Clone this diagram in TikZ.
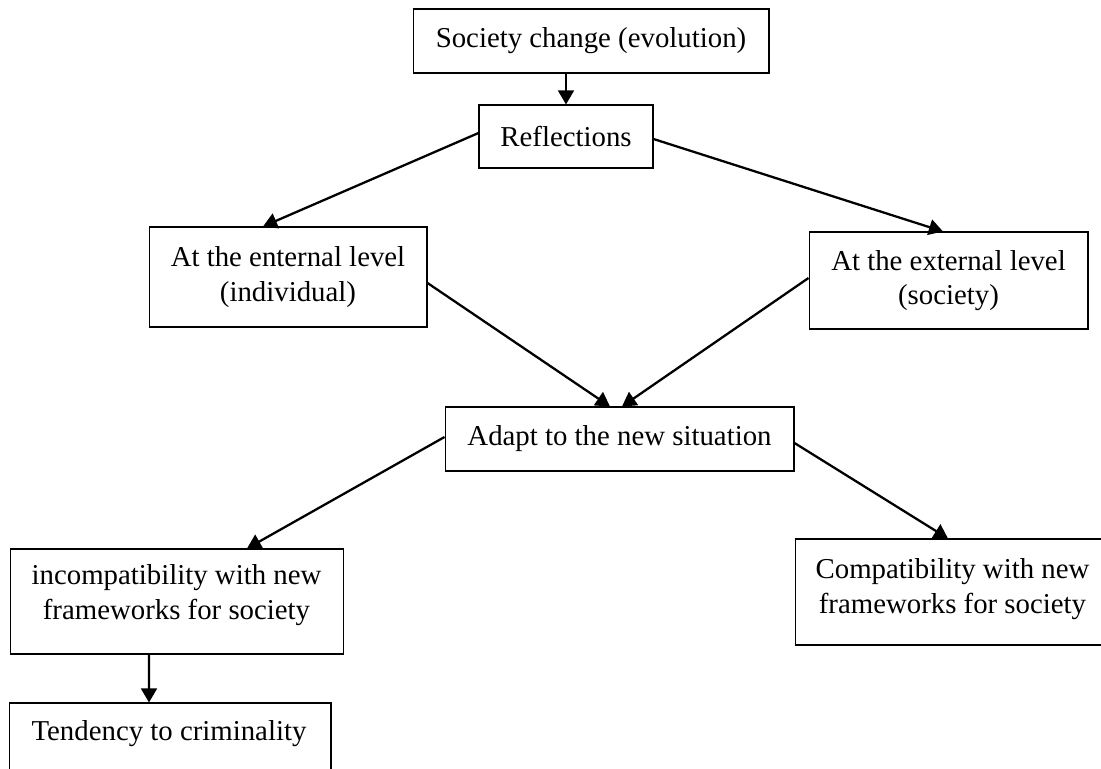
\documentclass[tikz,border=0pt]{standalone}
\usepackage{fontspec}
\setmainfont{Liberation Serif}
\usetikzlibrary{arrows.meta}
\begin{document}
\begin{tikzpicture}[x=0.02cm,y=-0.02cm,
  box/.style={draw=black, line width=0.6pt, rectangle, inner sep=0pt, align=center,
    font=\fontsize{16.4}{19.5}\selectfont},
  arr/.style={line width=1.3pt, -{Triangle[length=8pt,width=9pt]}}]
\path[use as bounding box, clip] (0,0) rectangle (1101,768);
\fill[white] (0,0) rectangle (1101,768);
\node[box, minimum width=7.12cm, minimum height=1.28cm] (soc) at (591,41) {Society change (evolution)};
\node[box, minimum width=3.48cm, minimum height=1.26cm] (refl) at (566,136.5) {Reflections};
\node[box, minimum width=5.56cm, minimum height=2.0cm] (int) at (288,277) {At the enternal level\\(individual)};
\node[box, minimum width=5.58cm, minimum height=1.94cm] (ext) at (948.5,280.5) {At the external level\\(society)};
\node[box, minimum width=6.98cm, minimum height=1.28cm] (adapt) at (619.5,439) {Adapt to the new situation};
\node[box, minimum width=6.68cm, minimum height=2.1cm] (incompat) at (177,601.5) {};
\node[anchor=center, align=center, inner sep=0pt, font=\fontsize{16.4}{19.5}\selectfont] (incompattext) at (176.5,595) {incompatibility with new\\frameworks for society};
\node[box, minimum width=6.3cm, minimum height=2.12cm] (compat) at (952.5,592) {};
\node[anchor=center, align=center, inner sep=0pt, font=\fontsize{16.4}{19.5}\selectfont] (compattext) at (952.5,589) {Compatibility with new\\frameworks for society};
\node[box, minimum width=6.44cm, minimum height=1.94cm] (tend) at (170,751.5) {};
\node[anchor=base, inner sep=0pt, font=\fontsize{16.4}{19.5}\selectfont] (tendtext) at (169,740) {Tendency to criminality};
\draw[arr] (refl.north |- soc.south) -- (refl.north);
\draw[arr] ([yshift=0.07cm]refl.west) -- ([xshift=-0.5cm]int.north);
\draw[arr] ([yshift=-0.05cm]refl.east) -- ([xshift=-0.11cm]ext.north);
\draw[arr] ([yshift=-0.12cm]int.east) -- ([xshift=-0.19cm]adapt.north);
\draw[arr] ([yshift=0.05cm]ext.west) -- ([xshift=0.05cm]adapt.north);
\draw[arr] ([yshift=0.04cm]adapt.west) -- ([xshift=1.4cm]incompat.north);
\draw[arr] ([yshift=-0.08cm]adapt.east) -- ([xshift=-0.09cm]compat.north);
\draw[arr] ([xshift=-0.56cm]incompat.south) -- ([xshift=-0.42cm]tend.north);
\end{tikzpicture}
\end{document}
